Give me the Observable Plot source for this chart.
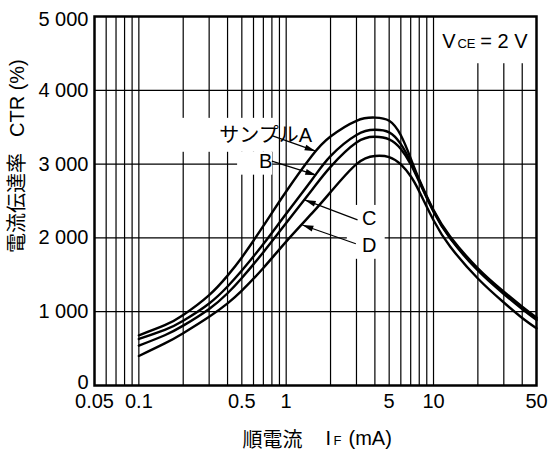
<!DOCTYPE html>
<html>
<head>
<meta charset="utf-8">
<script src="https://cdn.jsdelivr.net/npm/d3@7"></script>
<script src="https://cdn.jsdelivr.net/npm/@observablehq/plot@0.6"></script>
<style>
  html, body { margin: 0; padding: 0; background: #fff; }
</style>
</head>
<body>
<div id="chart"></div>
<script>
// ---- data ----
const forwardCurrent = [0.1, 0.15, 0.2, 0.3, 0.4, 0.5, 0.7, 1, 1.5, 2, 3, 4, 5, 6, 7, 8, 10, 13, 20, 30, 40, 50]; // mA
const ctrA = [680, 817, 956, 1225, 1489, 1735, 2162, 2629, 3116, 3374, 3587, 3630, 3587, 3390, 3078, 2791, 2377, 2016, 1588, 1272, 1068, 921];
const ctrB = [630, 753, 878, 1112, 1342, 1558, 1917, 2327, 2791, 3109, 3395, 3465, 3430, 3270, 3030, 2775, 2365, 2000, 1572, 1255, 1050, 903];
const ctrC = [540, 681, 811, 1037, 1250, 1457, 1806, 2201, 2653, 2963, 3292, 3370, 3335, 3205, 3000, 2760, 2355, 1990, 1558, 1240, 1035, 888];
const ctrD = [400, 570, 709, 931, 1113, 1286, 1593, 1950, 2335, 2620, 3000, 3110, 3095, 2995, 2835, 2630, 2240, 1880, 1450, 1125, 915, 775];
const sampleNames = ["A", "B", "C", "D"];

const xTicks = [0.05, 0.1, 0.5, 1, 5, 10, 50];
const xTickLabels = ["0.05", "0.1", "0.5", "1", "5", "10", "50"];
const yTicks = [0, 1000, 2000, 3000, 4000, 5000];
const yTickLabels = ["0", "1 000", "2 000", "3 000", "4 000", "5 000"];
const xGrid = [0.06, 0.07, 0.08, 0.09, 0.1, 0.2, 0.3, 0.4, 0.5, 0.6, 0.7, 0.8, 0.9, 1, 2, 3, 4, 5, 6, 7, 8, 9, 10, 20, 30, 40];
const yGrid = [1000, 2000, 3000, 4000];

// annotation anchors (data units)
const curveLabels = [
  {text: "サンプルA", x: 0.726, y: 3385, anchor: "end"},
  {text: "B", x: 0.726, y: 3030, anchor: "end"},
  {text: "C", x: 3.66, y: 2256, anchor: "middle"},
  {text: "D", x: 3.66, y: 1890, anchor: "middle"}
];
const leaders = [
  {x1: 0.80, y1: 3385, x2: 1.585, y2: 3175},
  {x1: 0.80, y1: 3040, x2: 1.60, y2: 2850},
  {x1: 3.05, y1: 2245, x2: 1.336, y2: 2515},
  {x1: 2.97, y1: 1920, x2: 1.288, y2: 2175}
];
const maskBoxes = [
  {x1: 0.147, x2: 0.85, y1: 3160, y2: 3620},
  {x1: 0.468, x2: 0.81, y1: 2850, y2: 3160},
  {x1: 2.6, x2: 4.7, y1: 1710, y2: 2440},
  {x1: 11, x2: 50, y1: 4360, y2: 5000}
];

// ---- build table ----
const seriesValues = [ctrA, ctrB, ctrC, ctrD];
const rows = sampleNames.flatMap((name, s) =>
  forwardCurrent.map((x, i) => ({sample: name, current: x, ctr: seriesValues[s][i]}))
);
const yMid = yTicks.map((v, i) => ({v, label: yTickLabels[i]}));

const LATIN = "'Liberation Sans', Arial, Helvetica, sans-serif";
const MIXED = "'Liberation Sans', Arial, 'Noto Sans CJK JP', sans-serif";
const CJK = "'Noto Sans CJK JP', 'Noto Sans CJK SC', sans-serif";

function filledArrow(color, context) {
  const doc = (context && context.document) || document;
  const ns = "http://www.w3.org/2000/svg";
  const m = doc.createElementNS(ns, "marker");
  m.setAttribute("viewBox", "-12 -5 12 10");
  m.setAttribute("refX", "0");
  m.setAttribute("refY", "0");
  m.setAttribute("markerWidth", "12");
  m.setAttribute("markerHeight", "10");
  m.setAttribute("markerUnits", "userSpaceOnUse");
  m.setAttribute("orient", "auto");
  const p = doc.createElementNS(ns, "path");
  p.setAttribute("d", "M-11,-3L0,0L-11,3Z");
  p.setAttribute("fill", color);
  p.setAttribute("stroke", "none");
  m.appendChild(p);
  return m;
}

const chart = Plot.plot({
  width: 548,
  height: 458,
  marginLeft: 94,
  marginRight: 12,
  marginTop: 16,
  marginBottom: 73,
  style: {fontFamily: LATIN, fontSize: "20px", background: "white", color: "black"},
  x: {type: "log", domain: [0.05, 50], axis: null},
  y: {domain: [0, 5000], axis: null},
  marks: [
    Plot.ruleX(xGrid, {stroke: "#000", strokeWidth: 1.2}),
    Plot.ruleY(yGrid, {stroke: "#000", strokeWidth: 1.2}),
    Plot.rect(maskBoxes, {x1: "x1", x2: "x2", y1: "y1", y2: "y2", fill: "white"}),
    Plot.frame({stroke: "#000", strokeWidth: 2.5}),
    // tick labels
    Plot.text(xTicks, {x: d => d, text: (d, i) => xTickLabels[i], frameAnchor: "bottom", lineAnchor: "top", dy: 8, fontSize: 20}),
    Plot.text(yMid.slice(1, 5), {y: "v", text: "label", frameAnchor: "left", textAnchor: "end", dx: -6, fontSize: 20}),
    Plot.text(yMid.slice(0, 1), {y: "v", text: "label", frameAnchor: "left", textAnchor: "end", dx: -6, dy: -3, fontSize: 20}),
    Plot.text(yMid.slice(5), {y: "v", text: "label", frameAnchor: "left", textAnchor: "end", dx: -6, dy: 3, fontSize: 20}),
    // curves
    Plot.line(rows, {x: "current", y: "ctr", z: "sample", stroke: "#000", strokeWidth: 2.4, curve: "natural"}),
    Plot.link(leaders, {x1: "x1", y1: "y1", x2: "x2", y2: "y2", stroke: "#000", strokeWidth: 1.2, markerEnd: filledArrow}),
    Plot.text(curveLabels, {x: "x", y: "y", text: "text", textAnchor: d => d.anchor, fontFamily: MIXED, fontSize: 20, fill: "#000"}),
    // condition label
    Plot.text(["V"], {frameAnchor: "top-right", text: d => d, textAnchor: "end", lineAnchor: "bottom", dx: -81, dy: 31, fontSize: 20}),
    Plot.text(["CE"], {frameAnchor: "top-right", text: d => d, textAnchor: "end", lineAnchor: "bottom", dx: -61, dy: 31, fontSize: 13}),
    Plot.text(["= 2 V"], {frameAnchor: "top-right", text: d => d, textAnchor: "end", lineAnchor: "bottom", dx: -9, dy: 31, fontSize: 20}),
    // y title
    Plot.text(["電流伝達率"], {frameAnchor: "left", text: d => d, rotate: -90, dx: -76.5, dy: 52, fontFamily: CJK, fontSize: 20}),
    Plot.text(["CTR (%)"], {frameAnchor: "left", text: d => d, rotate: -90, dx: -76.5, dy: -64, fontSize: 20}),
    // x title
    Plot.text(["順電流"], {frameAnchor: "bottom", text: d => d, textAnchor: "middle", lineAnchor: "bottom", dx: -43, dy: 61, fontFamily: CJK, fontSize: 20}),
    Plot.text(["I"], {frameAnchor: "bottom", text: d => d, textAnchor: "start", lineAnchor: "bottom", dx: 10, dy: 59, fontSize: 20}),
    Plot.text(["F"], {frameAnchor: "bottom", text: d => d, textAnchor: "start", lineAnchor: "bottom", dx: 18, dy: 59, fontSize: 13}),
    Plot.text(["(mA)"], {frameAnchor: "bottom", text: d => d, textAnchor: "start", lineAnchor: "bottom", dx: 33, dy: 59, fontSize: 20})
  ]
});

document.getElementById("chart").append(chart);
</script>
</body>
</html>
